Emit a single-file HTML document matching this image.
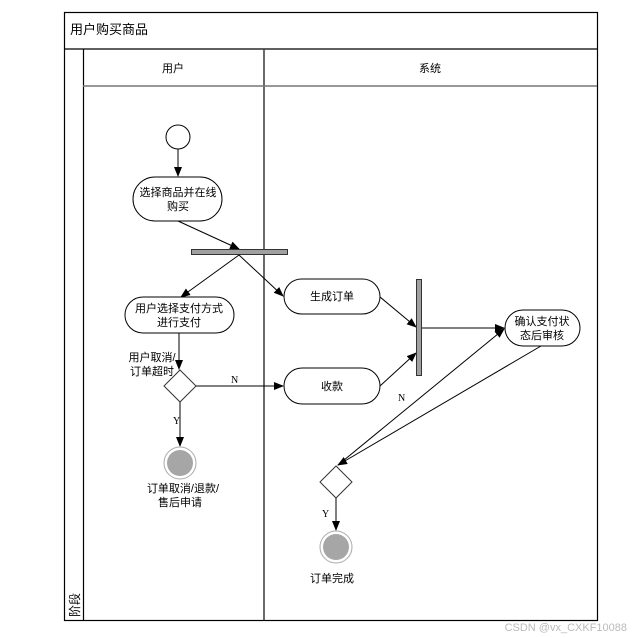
<!DOCTYPE html>
<html><head><meta charset="utf-8"><style>
html,body{margin:0;padding:0;background:#fff;}
svg{display:block;}
text{font-family:"Liberation Sans","Noto Sans CJK SC",sans-serif;font-size:11px;fill:#000;}
.s{font-family:"Liberation Serif",serif;font-size:10px;}
</style></head><body>
<svg width="634" height="638" viewBox="0 0 634 638" xmlns="http://www.w3.org/2000/svg">
<defs>
<marker id="a" markerWidth="10" markerHeight="8" refX="9" refY="4" orient="auto" markerUnits="userSpaceOnUse">
<path d="M0,0 L10,4 L0,8 z" fill="#000"/></marker>
</defs>
<!-- frame -->
<rect x="64.5" y="12.5" width="533" height="608" fill="none" stroke="#000" stroke-width="1.2"/>
<line x1="64" y1="49" x2="597" y2="49" stroke="#000" stroke-width="1.2"/>
<text x="70" y="34" style="font-size:13px">用户购买商品</text>
<line x1="83.5" y1="49" x2="83.5" y2="620" stroke="#000" stroke-width="1.2"/>
<line x1="264" y1="49" x2="264" y2="620" stroke="#444" stroke-width="1.6"/>
<line x1="83" y1="86" x2="597" y2="86" stroke="#777" stroke-width="1.6"/>
<text x="173" y="72" text-anchor="middle">用户</text>
<text x="430" y="72" text-anchor="middle">系统</text>
<text transform="translate(79,617) rotate(-90)" style="font-size:12px">阶段</text>
<!-- start -->
<circle cx="178" cy="137" r="12" fill="#fff" stroke="#000"/>
<line x1="178" y1="149" x2="178" y2="176" stroke="#000" marker-end="url(#a)"/>
<rect x="133" y="177" width="89" height="44" rx="22" fill="#fff" stroke="#000"/>
<text x="178" y="196" text-anchor="middle">选择商品并在线</text>
<text x="178" y="210" text-anchor="middle">购买</text>
<line x1="178" y1="221" x2="239" y2="249" stroke="#000" marker-end="url(#a)"/>
<rect x="191.5" y="249.5" width="96" height="5" fill="#a0a0a0" stroke="#333"/>
<line x1="239" y1="255" x2="181" y2="297" stroke="#000" marker-end="url(#a)"/>
<line x1="239" y1="255" x2="283" y2="296" stroke="#000" marker-end="url(#a)"/>
<rect x="125" y="297" width="109" height="36" rx="18" fill="#fff" stroke="#000"/>
<text x="179" y="312" text-anchor="middle">用户选择支付方式</text>
<text x="179" y="326" text-anchor="middle">进行支付</text>
<line x1="179" y1="333" x2="179" y2="369" stroke="#000" marker-end="url(#a)"/>
<text x="152" y="361" text-anchor="middle">用户取消/</text>
<text x="152" y="375" text-anchor="middle">订单超时</text>
<path d="M180,370 L196,386 L180,402 L164,386 z" fill="#fff" stroke="#333"/>
<line x1="196" y1="386" x2="283" y2="386" stroke="#000" marker-end="url(#a)"/>
<text x="231" y="383" class="s">N</text>
<line x1="180" y1="402" x2="180" y2="446" stroke="#000" marker-end="url(#a)"/>
<text x="173" y="424" class="s">Y</text>
<circle cx="180" cy="463" r="16" fill="#fff" stroke="#aaa"/>
<circle cx="180" cy="463" r="13" fill="#a6a6a6"/>
<text x="183" y="492" text-anchor="middle">订单取消/退款/</text>
<text x="180" y="506" text-anchor="middle">售后申请</text>
<!-- system -->
<rect x="284" y="279" width="96" height="35" rx="17.5" fill="#fff" stroke="#000"/>
<text x="332" y="300" text-anchor="middle">生成订单</text>
<rect x="284" y="368" width="96" height="36" rx="18" fill="#fff" stroke="#000"/>
<text x="332" y="390" text-anchor="middle">收款</text>
<line x1="380" y1="297" x2="416" y2="327" stroke="#000" marker-end="url(#a)"/>
<line x1="380" y1="386" x2="416" y2="353" stroke="#000" marker-end="url(#a)"/>
<rect x="416.5" y="279.5" width="5" height="96" fill="#a0a0a0" stroke="#333"/>
<line x1="422" y1="328" x2="504" y2="328" stroke="#000" marker-end="url(#a)"/>
<rect x="505" y="310" width="75" height="36" rx="18" fill="#fff" stroke="#000"/>
<text x="542" y="325" text-anchor="middle">确认支付状</text>
<text x="542" y="339" text-anchor="middle">态后审核</text>
<line x1="338" y1="465" x2="504" y2="329" stroke="#000" marker-end="url(#a)"/>
<line x1="541" y1="346" x2="338" y2="465" stroke="#000" marker-end="url(#a)"/>
<text x="398" y="401" class="s">N</text>
<path d="M336,466 L352,482 L336,498 L320,482 z" fill="#fff" stroke="#333"/>
<line x1="336" y1="498" x2="336" y2="530" stroke="#000" marker-end="url(#a)"/>
<text x="322" y="517" class="s">Y</text>
<circle cx="336" cy="547" r="16" fill="#fff" stroke="#aaa"/>
<circle cx="336" cy="547" r="13" fill="#a6a6a6"/>
<text x="332" y="582" text-anchor="middle">订单完成</text>
<text x="627" y="631" text-anchor="end" style="font-size:11px;fill:#bbb">CSDN @vx_CXKF10088</text>
</svg>
</body></html>
